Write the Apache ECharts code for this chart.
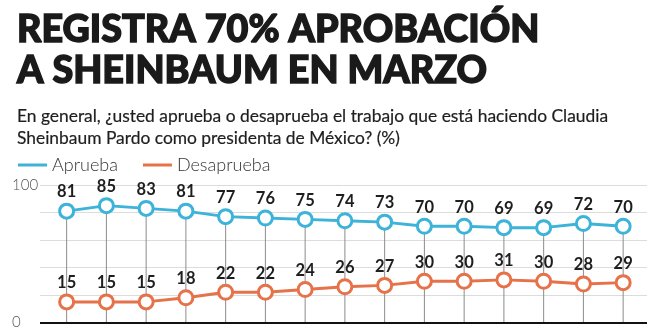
<!DOCTYPE html>
<html><head><meta charset="utf-8">
<script src="https://cdn.jsdelivr.net/npm/echarts@6/dist/echarts.min.js"></script>
<style>html,body{margin:0;padding:0;background:#fff}#c{width:660px;height:330px}</style>
</head><body><div id="c"></div>
<script>
const titleText = 'REGISTRA 70% APROBACIÓN\nA SHEINBAUM EN MARZO';
const subtitleText = 'En general, ¿usted aprueba o desaprueba el trabajo que está haciendo Claudia\nSheinbaum Pardo como presidenta de México? (%)';
const seriesNames = ['Aprueba', 'Desaprueba'];
const categories = [1,2,3,4,5,6,7,8,9,10,11,12,13,14,15];
const aprueba = [81,85,83,81,77,76,75,74,73,70,70,69,69,72,70];
const desaprueba = [15,15,15,18,22,22,24,26,27,30,30,31,30,28,29];
const yTicks = [0, 100];

const idx = categories.map((c, i) => i);
const pairs = arr => arr.map((v, i) => [idx[i], v]);
const chart = echarts.init(document.getElementById('c'), null, {renderer: 'canvas'});
const BLUE = '#3db3d9', ORANGE = '#e6724a';
const COLORS = [BLUE, ORANGE];
const lab = {show: true, position: 'top', distance: 2, color: '#1e1e1e', fontSize: 16.5, fontWeight: 'bold', fontFamily: 'Lato'};
chart.setOption({
  animation: false,
  title: [
    {text: titleText, left: 12, top: 5, textStyle: {fontFamily: 'Lato', fontWeight: 900, fontSize: 37.7, lineHeight: 40.5, color: '#1a1a1a', textBorderColor: '#1a1a1a', textBorderWidth: 1.4}},
    {text: subtitleText, left: 12, top: 100, textStyle: {fontFamily: 'Lato', fontWeight: 'normal', fontSize: 17.4, lineHeight: 22, color: '#1e1e1e', textBorderColor: '#1e1e1e', textBorderWidth: 0.2}}
  ],
  legend: {
    left: 13, top: 151, itemWidth: 29, itemHeight: 3, itemGap: 25,
    textStyle: {fontFamily: 'Lato', fontWeight: 300, fontSize: 18, color: '#333'},
    data: seriesNames.map((n, i) => ({name: n, icon: 'rect', itemStyle: {color: COLORS[i], borderWidth: 0}}))
  },
  grid: {left: 40, right: 13, top: 185, bottom: 7},
  xAxis: {type: 'value', min: -0.67, max: 14.6, show: false},
  yAxis: {
    type: 'value', min: 0, max: 100, interval: 20,
    axisLine: {show: false}, axisTick: {show: false},
    splitLine: {lineStyle: {color: '#dcdcdc', width: 1}},
    axisLabel: {align: 'left', margin: 28, color: '#555', fontFamily: 'Lato', fontWeight: 300, fontSize: 15,
      formatter: v => yTicks.includes(v) ? String(v) : ''}
  },
  series: [
    {type: 'bar', data: pairs(aprueba), barWidth: 1, itemStyle: {color: '#8c8c8c'}, z: 1, silent: true,
     markLine: {silent: true, symbol: 'none', label: {show: false}, lineStyle: {color: '#111', width: 2, type: 'solid'}, data: [{yAxis: 0}]}},
    {name: seriesNames[0], type: 'line', data: pairs(aprueba), symbol: 'circle', symbolSize: 14,
     lineStyle: {color: BLUE, width: 3}, itemStyle: {color: '#fff', borderColor: BLUE, borderWidth: 3}, label: lab, z: 3},
    {name: seriesNames[1], type: 'line', data: pairs(desaprueba), symbol: 'circle', symbolSize: 14,
     lineStyle: {color: ORANGE, width: 3}, itemStyle: {color: '#fff', borderColor: ORANGE, borderWidth: 3}, label: lab, z: 3}
  ]
});
</script></body></html>
